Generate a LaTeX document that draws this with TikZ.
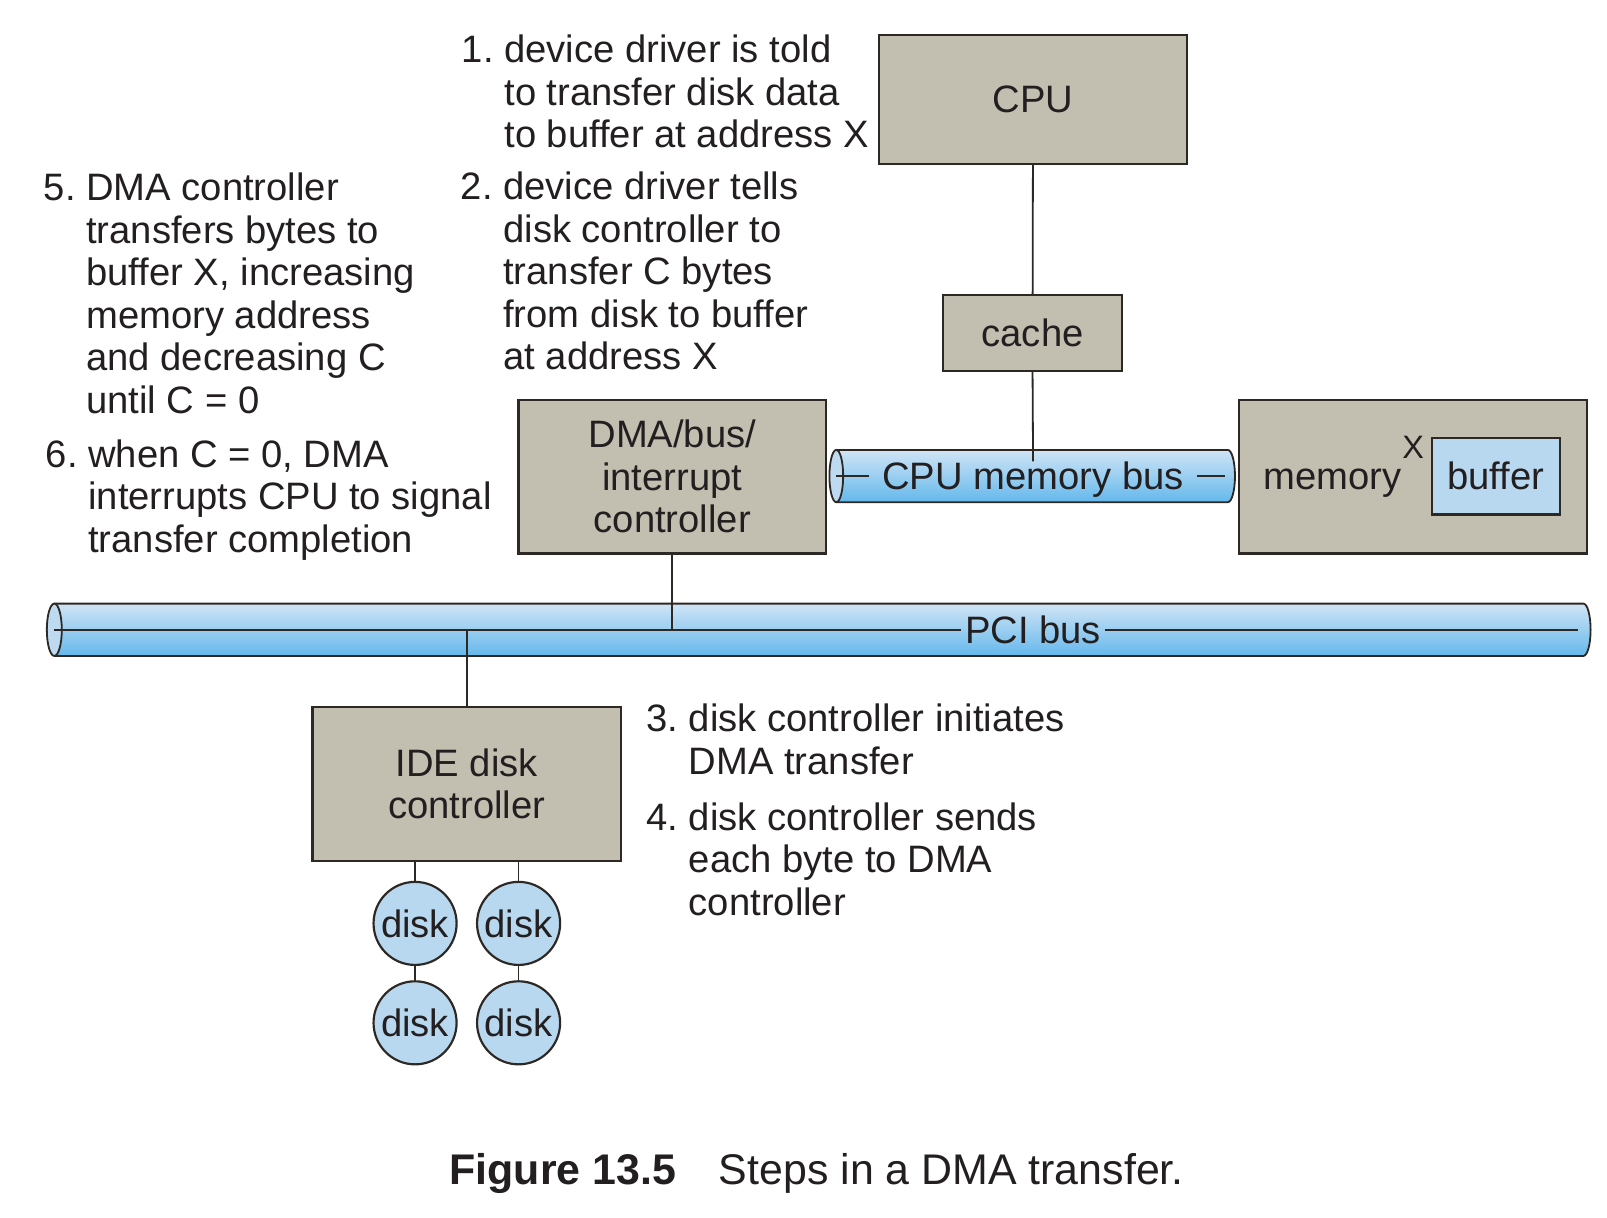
\documentclass[tikz,border=0pt]{standalone}
\usepackage{fontspec}
\setmainfont{Liberation Sans}
\usetikzlibrary{positioning}

\definecolor{boxfill}{RGB}{194,191,177}
\definecolor{linegray}{RGB}{45,40,35}
\definecolor{diskfill}{RGB}{184,216,240}
\definecolor{bustop}{RGB}{208,228,245}
\definecolor{busbot}{RGB}{100,184,236}
\definecolor{busend}{RGB}{190,218,240}
\definecolor{inkc}{RGB}{35,31,32}

\newcommand\bodyfont{\fontsize{10.6}{11.8}\selectfont}

\begin{document}
\begin{tikzpicture}[x=0.01cm, y=-0.01cm,
        unit/.style={rectangle, draw=linegray, line width=0.6pt, fill=boxfill, align=center, font=\bodyfont, text=inkc, inner sep=0pt},
        disk/.style={circle, draw=linegray, line width=0.6pt, fill=diskfill, minimum size=0.81cm, inner sep=0pt, font=\bodyfont, text=inkc},
        link/.style={draw=linegray, line width=0.5pt},
        busedge/.style={draw=linegray, line width=0.5pt},
        buslabel/.style={font=\bodyfont, text=inkc, text depth=0pt, inner ysep=0pt},
        steptext/.style={anchor=base west, inner sep=0pt, font=\bodyfont, text=inkc}
    ]
        \useasboundingbox[fill=white] (0,0) rectangle (1568,1188);

        % boxes
        \node[unit, minimum width=3cm, minimum height=1.26cm] (cpu) at (1008,97) {CPU};
        \node[unit, minimum width=1.75cm, minimum height=0.74cm] (cache) at (1007.5,325) {cache};
        \node[unit, minimum width=3cm, minimum height=1.5cm] (dma) at (656,465) {DMA/bus/\\interrupt\\controller};
        \node[unit, minimum width=3.39cm, minimum height=1.5cm] (memory) at (1378.5,465) {};
        \node[font=\bodyfont, text=inkc, anchor=base, inner sep=0pt] (memlabel) at (1300,478) {memory};
        \node[font=\fontsize{9}{10}\selectfont, text=inkc, anchor=base, inner sep=0pt] (addrx) at (1379,447) {X};
        \node[unit, fill=diskfill, minimum width=1.25cm, minimum height=0.75cm] (buffer) at (1459.5,464.5) {buffer};
        \node[unit, minimum width=3.01cm, minimum height=1.5cm] (ide) at (455.5,765) {IDE disk\\controller};

        % disks
        \node[disk] (disk1) at (405,901) {disk};
        \node[disk] (disk2) at (506,901) {disk};
        \node[disk] (disk3) at (405,998) {disk};
        \node[disk] (disk4) at (506,998) {disk};

        % CPU memory bus
        \shade[top color=bustop, bottom color=busbot] (816,439) -- (1198,439) arc[start angle=90, end angle=-90, x radius=0.07cm, y radius=0.255cm] -- (816,490) -- cycle;
        \draw[busedge] (816,439) -- (1198,439) arc[start angle=90, end angle=-90, x radius=0.07cm, y radius=0.255cm] -- (816,490);
        \draw[busedge, fill=busend] (816,464.5) ellipse [x radius=0.067cm, y radius=0.255cm];
        \coordinate (membusL) at (816,464.5);
        \coordinate (membusR) at (1195,464.5);
        \node[buslabel, inner xsep=0.12cm] (membus) at (1008,464.5) {CPU memory bus};
        \draw[link] (membusL) -- (membus);
        \draw[link] (membus) -- (membusR);

        % PCI bus
        \shade[top color=bustop, bottom color=busbot] (53,589) -- (1545,589) arc[start angle=90, end angle=-90, x radius=0.07cm, y radius=0.255cm] -- (53,640) -- cycle;
        \draw[busedge] (53,589) -- (1545,589) arc[start angle=90, end angle=-90, x radius=0.07cm, y radius=0.255cm] -- (53,640);
        \draw[busedge, fill=busend] (53,614.5) ellipse [x radius=0.073cm, y radius=0.255cm];
        \coordinate (pciL) at (53,614.5);
        \coordinate (pciR) at (1540,614.5);
        \node[buslabel, inner xsep=1pt] (pci) at (1008,614.5) {PCI bus};
        \draw[link] (pciL) -- (pci);
        \draw[link] (pci) -- (pciR);

        % connectors
        \draw[link] (cpu) -- (cache);
        \draw[link] (cache.south) -- (membus.north);
        \draw[link] (dma.south) -- (dma.south |- pciL);
        \draw[link] (ide.north |- pciL) -- (ide.north);
        \draw[link] (ide.south -| disk1) -- (disk1);
        \draw[link] (ide.south -| disk2) -- (disk2);
        \draw[link] (disk1) -- (disk3);
        \draw[link] (disk2) -- (disk4);

        % steps
        \node[steptext] (step1) at (450,61) {\begin{tabular}[t]{@{}l@{\ }l@{}}1.&device driver is told\\ &to transfer disk data\\ &to buffer at address X\end{tabular}};
        \node[steptext] (step2) at (449,195) {\begin{tabular}[t]{@{}l@{\ }l@{}}2.&device driver tells\\ &disk controller to\\ &transfer C bytes\\ &from disk to buffer\\ &at address X\end{tabular}};
        \node[steptext] (step3) at (630,714) {\begin{tabular}[t]{@{}l@{\ }l@{}}3.&disk controller initiates\\ &DMA transfer\end{tabular}};
        \node[steptext] (step4) at (630,810) {\begin{tabular}[t]{@{}l@{\ }l@{}}4.&disk controller sends\\ &each byte to DMA\\ &controller\end{tabular}};
        \node[steptext] (step5) at (42,196) {\begin{tabular}[t]{@{}l@{\ }l@{}}5.&DMA controller\\ &transfers bytes to\\ &buffer X, increasing\\ &memory address\\ &and decreasing C\\ &until C = 0\end{tabular}};
        \node[steptext] (step6) at (44,456) {\begin{tabular}[t]{@{}l@{\ }l@{}}6.&when C = 0, DMA\\ &interrupts CPU to signal\\ &transfer completion\end{tabular}};

        % caption
        \node[anchor=base west, inner sep=0pt, text=inkc, font=\fontsize{11.9}{14}\selectfont] (caption) at (438,1156) {\textbf{Figure 13.5}\quad Steps in a DMA transfer.};
    \end{tikzpicture}
\end{document}
